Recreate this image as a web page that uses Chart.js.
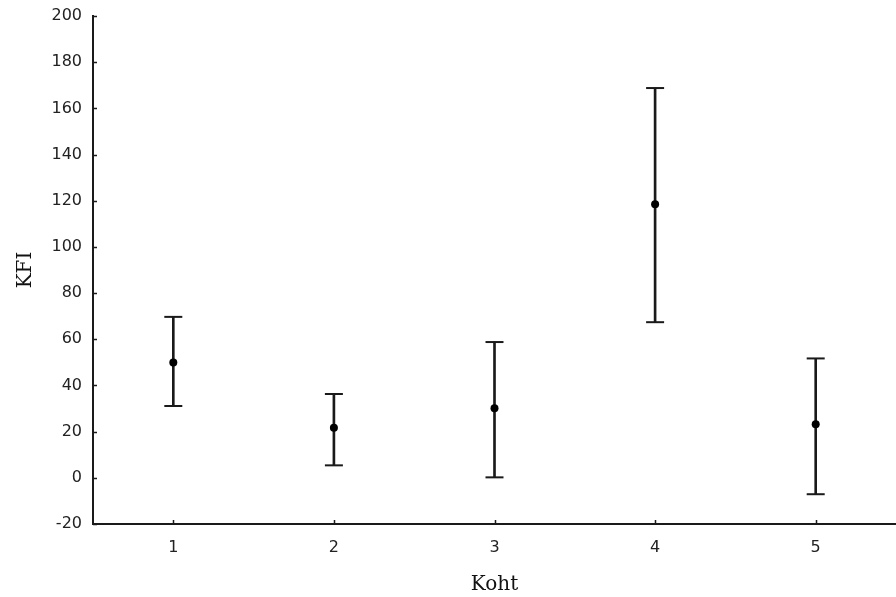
<!DOCTYPE html>
<html>
<head>
<meta charset="utf-8">
<script src="https://cdn.jsdelivr.net/npm/chart.js@4.4.1/dist/chart.umd.min.js"></script>
<style>
  html, body { margin: 0; padding: 0; background: #fff; }
  #wrap { width: 896px; height: 597px; }
</style>
</head>
<body>
<div id="wrap"><canvas id="kfi-chart" width="896" height="597"></canvas></div>
<script>
  // data
  const categories = ['1', '2', '3', '4', '5'];
  const meanValues = [49.9, 21.7, 30.1, 118.5, 23.2];
  const upperValues = [69.7, 36.3, 58.8, 168.8, 51.7];
  const lowerValues = [31.1, 5.4, 0.2, 67.4, -7.1];
  const yMin = -20;
  const yMax = 200;
  const yStep = 20;

  const ink = '#1a1a1a';

  // small tick marks pointing into the plot, like the original
  const innerTicks = {
    id: 'innerTicks',
    afterDraw: function (chart) {
      const c = chart.ctx;
      const xs = chart.scales.x;
      const ys = chart.scales.y;
      c.save();
      c.strokeStyle = ink;
      c.lineWidth = 1.5;
      c.beginPath();
      ys.ticks.forEach((_, i) => {
        const y = Math.round(ys.getPixelForTick(i)) + 0.5;
        c.moveTo(ys.right, y);
        c.lineTo(ys.right + 4, y);
      });
      xs.ticks.forEach((_, i) => {
        const x = Math.round(xs.getPixelForTick(i)) + 0.5;
        c.moveTo(x, xs.top);
        c.lineTo(x, xs.top - 4);
      });
      c.stroke();
      c.restore();
    }
  };

  const ctx = document.getElementById('kfi-chart');

  new Chart(ctx, {
    data: {
      labels: categories,
      datasets: [
        {
          type: 'bar',
          label: 'range',
          data: lowerValues.map((lo, i) => [lo, upperValues[i]]),
          backgroundColor: ink,
          borderWidth: 0,
          barThickness: 2,
          order: 3
        },
        {
          type: 'line',
          label: 'upper',
          data: upperValues,
          showLine: false,
          pointStyle: 'line',
          pointRadius: 9,
          pointBorderWidth: 2,
          pointBorderColor: ink,
          order: 2
        },
        {
          type: 'line',
          label: 'lower',
          data: lowerValues,
          showLine: false,
          pointStyle: 'line',
          pointRadius: 9,
          pointBorderWidth: 2,
          pointBorderColor: ink,
          order: 2
        },
        {
          type: 'line',
          label: 'KFI',
          data: meanValues,
          showLine: false,
          pointStyle: 'circle',
          pointRadius: 4,
          pointBorderWidth: 0,
          pointBackgroundColor: '#000',
          order: 1
        }
      ]
    },
    options: {
      responsive: false,
      animation: false,
      layout: { autoPadding: false, padding: { top: 16, right: -3, bottom: 0, left: 0 } },
      scales: {
        x: {
          type: 'category',
          offset: true,
          border: { display: true, color: ink, width: 2 },
          grid: { display: true, drawOnChartArea: false, drawTicks: false, color: 'rgba(0,0,0,0)' },
          ticks: { color: '#222', padding: 14, font: { family: 'DejaVu Sans', size: 16 } },
          title: {
            display: true,
            text: 'Koht',
            color: '#111',
            padding: { top: 0, bottom: 0 },
            font: { family: 'DejaVu Serif', size: 20 }
          },
          afterFit: function (scale) {
            scale.height = 73;
            scale.paddingLeft = 0;
            scale.paddingRight = 0;
          }
        },
        y: {
          min: yMin,
          max: yMax,
          border: { display: true, color: ink, width: 2 },
          grid: { display: true, drawOnChartArea: false, drawTicks: false, color: 'rgba(0,0,0,0)' },
          ticks: { stepSize: yStep, color: '#222', padding: 11, font: { family: 'DejaVu Sans', size: 16 } },
          title: {
            display: true,
            text: 'KFI',
            color: '#111',
            padding: { top: 14, bottom: 0 },
            font: { family: 'DejaVu Serif', size: 20 }
          },
          afterFit: function (scale) {
            scale.width = 93;
            scale.paddingTop = 0;
            scale.paddingBottom = 0;
          }
        }
      },
      plugins: {
        legend: { display: false },
        tooltip: { enabled: false }
      }
    },
    plugins: [innerTicks]
  });
</script>
</body>
</html>
